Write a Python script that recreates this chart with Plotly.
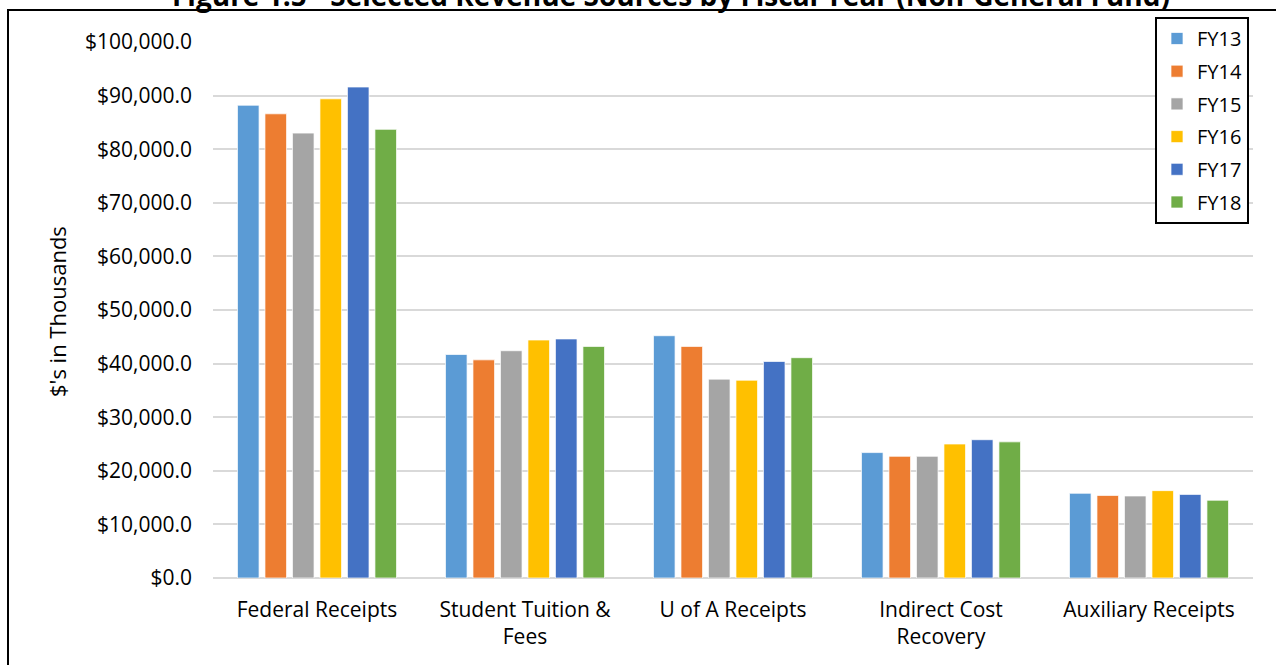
import plotly.graph_objects as go

# Revenue sources (thousands of dollars) by fiscal year
categories = ["Federal Receipts", "Student Tuition &<br>Fees", "U of A Receipts",
              "Indirect Cost<br>Recovery", "Auxiliary Receipts"]
years = ["FY13", "FY14", "FY15", "FY16", "FY17", "FY18"]

fy13 = [88200, 41700, 45200, 23400, 15800]
fy14 = [86600, 40700, 43200, 22700, 15400]
fy15 = [83000, 42400, 37100, 22700, 15300]
fy16 = [89400, 44400, 36900, 25000, 16300]
fy17 = [91600, 44600, 40400, 25800, 15600]
fy18 = [83700, 43200, 41100, 25400, 14500]

series = [fy13, fy14, fy15, fy16, fy17, fy18]
colors = ["#5B9BD5", "#ED7D31", "#A5A5A5", "#FFC000", "#4472C4", "#70AD47"]

y_ticks = [0, 10000, 20000, 30000, 40000, 50000, 60000, 70000, 80000, 90000, 100000]

FONT = "Open Sans"

fig = go.Figure()
for name, vals, col in zip(years, series, colors):
    fig.add_trace(go.Bar(
        name=name, x=categories, y=vals, legendgroup=name,
        marker=dict(color=col, line=dict(color="rgba(255,255,255,0.7)", width=1)),
    ))

W, H = 1276, 665
ml, mr, mt, mb = 213, 23, 42, 87
pw, ph = W - ml - mr, H - mt - mb


def px_x(x):
    return (x - ml) / pw


def px_y(y):
    return (H - mb - y) / ph


fig.update_layout(
    width=W, height=H,
    margin=dict(l=ml, r=mr, t=mt, b=mb),
    paper_bgcolor="white", plot_bgcolor="white",
    font=dict(family=FONT, size=21, color="black"),
    barmode="group", bargap=0.207, bargroupgap=0.215,
    showlegend=True,
    legend=dict(
        x=px_x(1249), xanchor="right", y=px_y(17), yanchor="top",
        bordercolor="black", borderwidth=2, bgcolor="white",
        font=dict(family=FONT, size=20, color="black"),
        tracegroupgap=3.7,
    ),
    xaxis=dict(showgrid=False, showline=False, ticks="", ticklabelstandoff=17,
               tickfont=dict(family=FONT, size=21, color="black")),
    yaxis=dict(range=[0, 100000], tickvals=y_ticks, tickformat="$,.1f",
               showgrid=True, gridcolor="#D9D9D9", gridwidth=1.5,
               zeroline=True, zerolinecolor="#D9D9D9", zerolinewidth=1.5,
               showline=False, ticks="", ticklabelstandoff=20,
               tickfont=dict(family=FONT, size=21, color="black")),
)

# axis title
fig.add_annotation(
    text="$'s in Thousands", xref="paper", yref="paper",
    x=px_x(57), y=px_y(312), textangle=-90, showarrow=False,
    xanchor="center", yanchor="middle",
    font=dict(family=FONT, size=22, color="black"),
)

# figure title
fig.add_annotation(
    text="<b>Figure 1.5 - Selected Revenue Sources by Fiscal Year (Non-General Fund)</b>",
    xref="paper", yref="paper", x=px_x(671), y=px_y(-5),
    xanchor="center", yanchor="middle", showarrow=False,
    font=dict(family=FONT, size=28, color="black"),
)

# outer frame
fig.add_shape(
    type="rect", xref="paper", yref="paper",
    x0=px_x(8), x1=px_x(1300), y0=px_y(10), y1=px_y(700),
    line=dict(color="black", width=2), fillcolor="rgba(0,0,0,0)", layer="above",
)

fig.write_html("out.html")
